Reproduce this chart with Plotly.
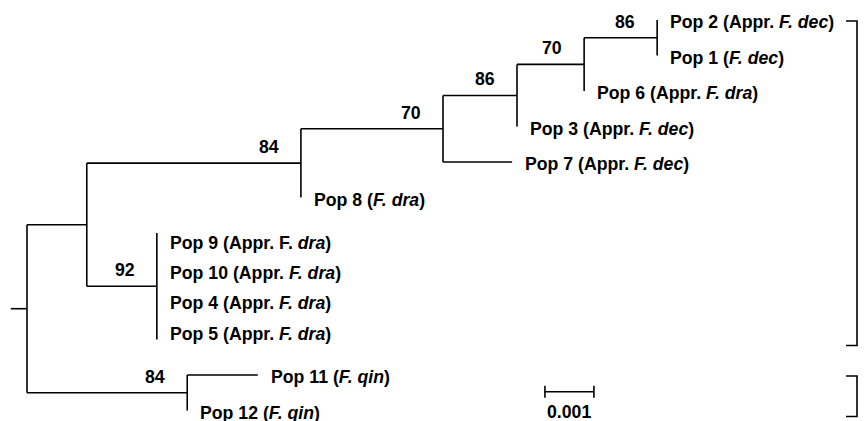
import plotly.graph_objects as go

# ---------------- data ----------------
leaf_labels = [
    "Pop 2 (Appr. <i>F. dec</i>)",
    "Pop 1 (<i>F. dec</i>)",
    "Pop 6 (Appr. <i>F. dra</i>)",
    "Pop 3 (Appr. <i>F. dec</i>)",
    "Pop 7 (Appr. <i>F. dec</i>)",
    "Pop 8 (<i>F. dra</i>)",
    "Pop 9 (Appr. F. <i>dra</i>)",
    "Pop 10 (Appr. <i>F. dra</i>)",
    "Pop 4 (Appr. <i>F. dra</i>)",
    "Pop 5 (Appr. <i>F. dra</i>)",
    "Pop 11 (<i>F. qin</i>)",
    "Pop 12 (<i>F. qin</i>)",
]
leaf_parent = ["F", "F", "E", "D", "C", "B", "N92", "N92", "N92", "N92", "O", "O"]
leaf_branch = [0, 0, 0, 0, 0.00141, 0, 0, 0, 0, 0, 0.00144, 0]

internal_nodes = ["root", "A", "B", "C", "D", "E", "F", "N92", "O"]
internal_parent = [None, "root", "A", "B", "C", "D", "E", "A", "root"]
internal_branch = [0.00033, 0.00122, 0.00437, 0.00290, 0.00151, 0.00137, 0.00149, 0.00143, 0.00327]
support = [None, None, 84, 70, 86, 70, 86, 92, 84]

scale_length = 0.001
scale_label = "0.001"
bracket_groups = [(0, 9), (10, 11)]

# ---------------- layout of tree ----------------
parent_of = {}
blen = {}
for n, p, b in zip(internal_nodes, internal_parent, internal_branch):
    parent_of[n] = p
    blen[n] = b
leaf_ids = [f"L{i}" for i in range(len(leaf_labels))]
for lid, p, b in zip(leaf_ids, leaf_parent, leaf_branch):
    parent_of[lid] = p
    blen[lid] = b

children = {n: [] for n in internal_nodes}
for n, p in parent_of.items():
    if p is not None:
        children[p].append(n)

xpos = {"root": 0.0}
def set_x(n):
    for c in children.get(n, []):
        xpos[c] = xpos[n] + blen[c]
        set_x(c)
set_x("root")

ypos = {lid: float(i) for i, lid in enumerate(leaf_ids)}
def set_y(n):
    if n in ypos:
        return ypos[n]
    ys = [set_y(c) for c in children[n]]
    ypos[n] = (min(ys) + max(ys)) / 2
    return ypos[n]
set_y("root")

lx, ly = [], []
# root stub
lx += [-blen["root"], 0, None]
ly += [ypos["root"], ypos["root"], None]
for n, p in parent_of.items():
    if p is None:
        continue
    if blen[n] > 0:
        lx += [xpos[p], xpos[n], None]
        ly += [ypos[n], ypos[n], None]
for n in internal_nodes:
    ys = [ypos[c] for c in children[n]]
    lx += [xpos[n], xpos[n], None]
    ly += [min(ys), max(ys), None]

FONT = "Liberation Sans, Arial, Helvetica, sans-serif"
FS = 17.7
INK = "#000000"
fig = go.Figure()
fig.add_trace(go.Scatter(x=lx, y=ly, mode="lines",
                         line=dict(color=INK, width=1.6),
                         hoverinfo="skip", showlegend=False))

# scale bar
sb_x0 = 0.01057
sb_y = 10.47
tick = 0.17
fig.add_trace(go.Scatter(
    x=[sb_x0, sb_x0 + scale_length, None, sb_x0, sb_x0, None, sb_x0 + scale_length, sb_x0 + scale_length],
    y=[sb_y, sb_y, None, sb_y - tick, sb_y + tick, None, sb_y - tick, sb_y + tick],
    mode="lines", line=dict(color=INK, width=1.6), hoverinfo="skip", showlegend=False))

# brackets
bx = 0.016939
arm = 0.000224
bxs, bys = [], []
for a, b in bracket_groups:
    bxs += [bx - arm, bx, bx, bx - arm, None]
    bys += [a + 0.03, a + 0.03, b + 0.17, b + 0.17, None]
fig.add_trace(go.Scatter(x=bxs, y=bys, mode="lines",
                         line=dict(color=INK, width=1.6),
                         hoverinfo="skip", showlegend=False))

annotations = []
for lid, lab in zip(leaf_ids, leaf_labels):
    p = parent_of[lid]
    y = ypos[lid]
    if len(children[p]) > 2:  # polytomy: labels packed slightly tighter
        y = ypos[p] + (y - ypos[p]) * 0.85
    annotations.append(dict(x=xpos[lid], y=y, text=f"<b>{lab}</b>",
                            xanchor="left", yanchor="middle", xshift=11, yshift=-2,
                            showarrow=False, font=dict(family=FONT, size=FS, color=INK)))
for n, s in zip(internal_nodes, support):
    if s is None:
        continue
    annotations.append(dict(x=xpos[n], y=ypos[n], text=f"<b>{s}</b>",
                            xanchor="center", yanchor="middle", xshift=-32, yshift=16,
                            showarrow=False, font=dict(family=FONT, size=FS, color=INK)))
annotations.append(dict(x=sb_x0 + scale_length / 2, y=sb_y, text=f"<b>{scale_label}</b>",
                        xanchor="center", yanchor="middle", yshift=-20,
                        showarrow=False, font=dict(family=FONT, size=FS, color=INK)))

x0 = -27 / 49000
fig.update_layout(
    width=865, height=421,
    margin=dict(l=0, r=0, t=0, b=0),
    paper_bgcolor="white", plot_bgcolor="white",
    xaxis=dict(range=[x0, x0 + 865 / 49000], visible=False, fixedrange=True),
    yaxis=dict(range=[(421 - 20) / 35.5, -20 / 35.5], visible=False, fixedrange=True),
    annotations=annotations,
    showlegend=False,
)
fig.write_html("out.html")
